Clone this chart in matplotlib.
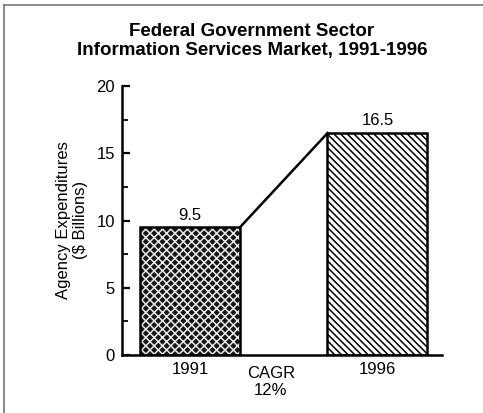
import matplotlib
matplotlib.use('Agg')
import matplotlib.pyplot as plt
from matplotlib.lines import Line2D
from matplotlib.ticker import MultipleLocator

### DATA ###
years = ['1991', '1996']
spend = [9.5, 16.5]
cagr_label = 'CAGR\n12%'
title = 'Federal Government Sector\nInformation Services Market, 1991-1996'
ylabel = 'Agency Expenditures\n($ Billions)'

plt.rcParams['font.family'] = ['Liberation Sans', 'DejaVu Sans']
plt.rcParams['hatch.linewidth'] = 1.1

### FIGURE ###
fig = plt.figure(figsize=(4.83, 4.13), dpi=100)
fig.patch.set_facecolor('white')
ax = fig.add_axes([0.2526, 0.1404, 0.6625, 0.6513])

xpos = [0, 1.875]
bw = 1.0
fs = 12

# 1991 bar: dark with light cross hatch
ax.bar(xpos[0], spend[0], width=bw, color='#151515', hatch='xxxx',
       edgecolor='#e8e8e8', linewidth=0, zorder=2)
ax.bar(xpos[0], spend[0], width=bw, fill=False, edgecolor='black',
       linewidth=1.8, zorder=3)
# 1996 bar: diagonal lines
ax.bar(xpos[1], spend[1], width=bw, color='white', hatch='\\' * 5,
       edgecolor='black', linewidth=1.8, zorder=2)

# connector line between bar tops
ax.plot([xpos[0] + bw / 2, xpos[1] - bw / 2], spend, color='black',
        linewidth=1.8, zorder=3)

for x, v in zip(xpos, spend):
    ax.text(x, v + 0.35, f'{v}', ha='center', va='bottom', fontsize=fs)

ax.set_xlim(-0.68, 2.52)
ax.set_ylim(0, 20)
ax.set_xticks(xpos)
ax.set_xticklabels(years, fontsize=fs)
ax.tick_params(axis='x', length=0, pad=5)
ax.yaxis.set_major_locator(MultipleLocator(5))
ax.yaxis.set_minor_locator(MultipleLocator(2.5))
ax.tick_params(axis='y', which='major', direction='in', length=6, width=1.6,
               labelsize=fs, pad=5)
ax.tick_params(axis='y', which='minor', direction='in', length=4, width=1.3)

ax.text(0.81, -0.85, cagr_label, ha='center', va='top', fontsize=fs,
        linespacing=1.1, transform=ax.transData)

for s in ['top', 'right']:
    ax.spines[s].set_visible(False)
for s in ['left', 'bottom']:
    ax.spines[s].set_linewidth(1.8)
ax.patch.set_alpha(0)

fig.text(72 / 483, 1 - 220 / 413, ylabel, rotation=90, ha='center',
         va='center', fontsize=fs, multialignment='center', linespacing=1.1)
fig.text(252 / 483, 1 - 41 / 413, title, ha='center', va='center',
         fontsize=13.5, fontweight='bold', linespacing=1.1)

# partial frame (left and top edges)
fig.add_artist(Line2D([4 / 483, 4 / 483], [0, 1 - 5 / 413],
                      transform=fig.transFigure, color='#777777', linewidth=1.2))
fig.add_artist(Line2D([4 / 483, 1], [1 - 5 / 413, 1 - 5 / 413],
                      transform=fig.transFigure, color='#777777', linewidth=1.2))

fig.savefig('out.png', dpi=100)
